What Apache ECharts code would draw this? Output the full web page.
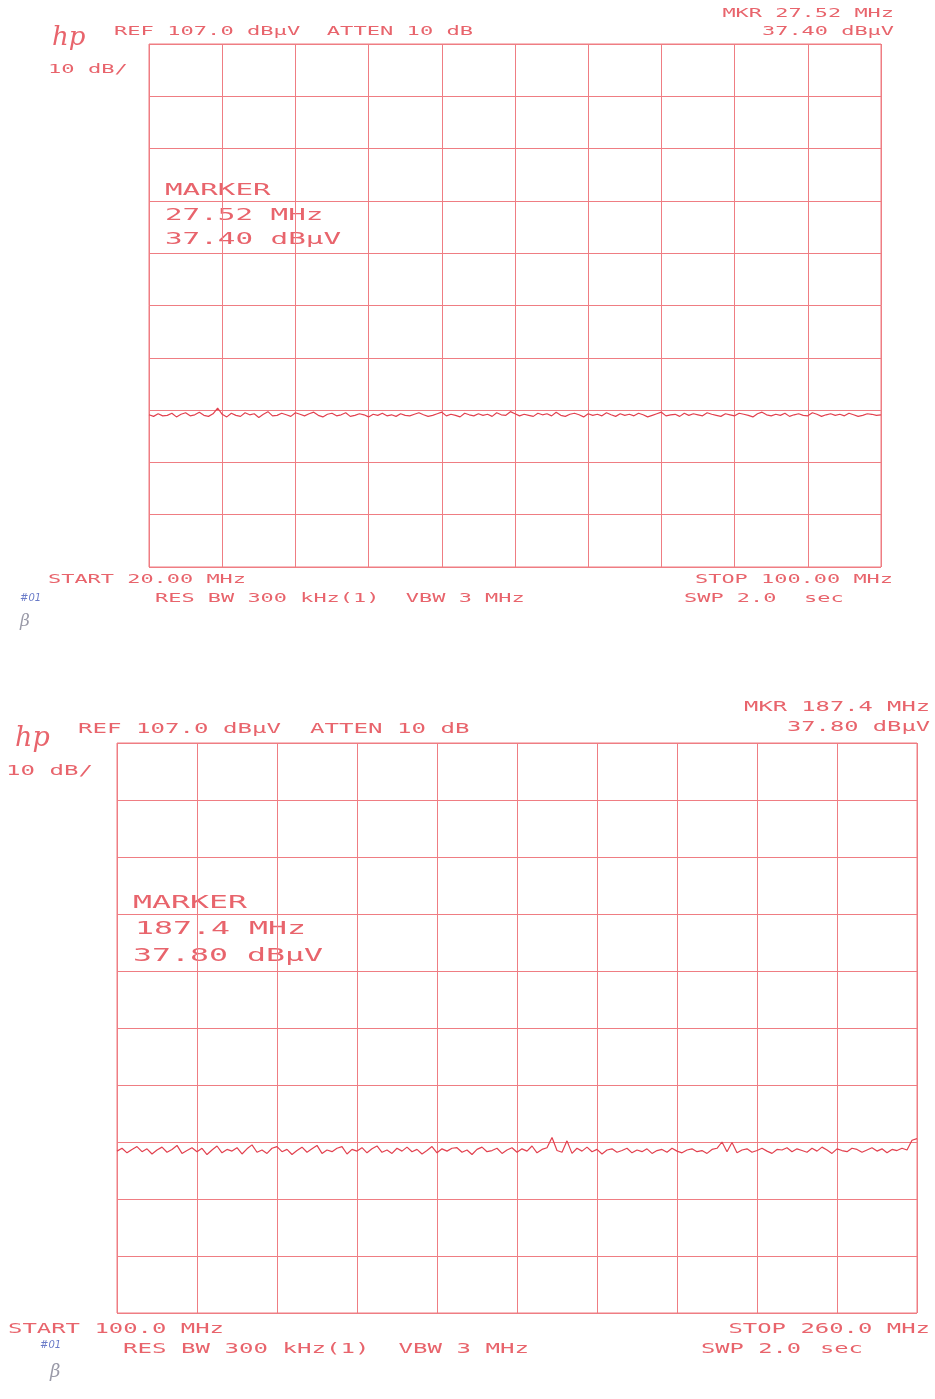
<!DOCTYPE html>
<html><head><meta charset="utf-8">
<script src="https://cdn.jsdelivr.net/npm/echarts@6/dist/echarts.min.js"></script>
<style>html,body{margin:0;padding:0;background:#fff}#c{width:935px;height:1399px}</style>
</head><body><div id="c"></div>
<script>
// ---- data ----
const refLevel = 107;          // dBµV, top of screen
const dbPerDiv = 10;
const divisions = 10;
const topStartMHz = 20, topStopMHz = 100;
const botStartMHz = 100, botStopMHz = 260;

// top sweep 20–100 MHz (dBµV)
const topTrace = [
36.1,35.8,36.3,35.9,36.0,36.4,35.7,36.2,36.5,35.9,36.1,36.6,36.0,35.8,36.3,37.4,36.2,35.7,36.4,36.0,
35.8,36.5,36.1,36.3,35.6,36.2,36.7,35.9,36.0,36.4,36.1,35.8,36.5,36.2,35.9,36.3,36.6,36.0,35.7,36.2,
36.4,35.9,36.1,36.5,35.8,36.0,36.3,36.1,35.7,36.2,36.0,36.4,35.9,36.1,35.8,36.3,36.0,35.9,36.2,36.5,
36.1,35.8,36.0,36.3,36.6,35.9,36.2,36.0,35.7,36.4,36.1,35.9,36.3,36.0,36.2,35.8,36.5,36.1,36.0,36.7,
36.3,35.9,36.2,36.0,35.8,36.4,36.1,36.3,35.9,36.6,36.0,35.8,36.2,36.4,36.1,35.7,36.3,36.0,36.2,35.9,
36.5,36.1,35.8,36.3,36.0,36.2,35.9,36.4,36.1,35.7,36.0,36.3,36.6,35.9,36.1,36.2,35.8,36.4,36.0,36.3,
36.1,35.9,36.5,36.2,36.0,35.8,36.3,36.1,35.9,36.4,36.2,36.0,35.7,36.3,36.6,36.1,35.9,36.2,36.0,36.4,
35.8,36.1,36.3,36.0,35.9,36.5,36.2,35.8,36.1,36.3,36.0,36.2,35.9,36.4,36.1,35.8,36.0,36.3,36.2,36.0,36.1
];
// bottom sweep 100–260 MHz (dBµV)
const botTrace = [
35.4,35.9,35.1,35.7,36.2,35.3,35.8,34.9,35.6,36.1,35.2,35.7,36.4,35.0,35.5,36.0,35.3,35.9,34.8,35.6,
36.3,35.1,35.7,35.4,36.0,34.9,35.8,36.5,35.2,35.6,35.0,35.9,36.2,35.3,35.7,34.8,35.5,36.1,35.2,35.8,
36.4,35.0,35.6,35.3,35.9,36.2,34.9,35.7,35.4,36.0,35.1,35.8,36.3,35.2,35.6,35.0,35.9,35.4,36.1,35.3,
35.7,34.9,35.5,36.2,35.1,35.8,35.4,35.9,36.0,35.2,35.6,34.8,35.7,36.1,35.3,35.5,35.9,35.0,35.6,36.0,
35.2,35.8,35.4,36.3,35.1,35.7,36.0,37.8,35.5,35.2,37.2,35.0,35.9,35.4,36.1,35.3,35.7,34.9,35.6,35.8,
35.2,35.5,35.9,35.1,35.6,35.3,35.8,35.0,35.5,35.7,35.2,35.9,35.4,35.1,35.6,35.8,35.3,35.5,35.0,35.7,
35.9,37.0,35.3,36.9,35.1,35.6,35.8,35.2,35.5,35.9,35.4,35.0,35.7,35.6,36.0,35.3,35.8,35.5,35.2,35.9,
35.4,36.1,35.6,35.0,35.8,35.5,35.3,35.9,35.7,35.2,35.6,36.0,35.4,35.8,35.1,35.7,35.5,35.9,35.6,37.3,37.6
];

// ---- texts ----
const headerText = 'REF 107.0 dBµV  ATTEN 10 dB';
const scaleText = '10 dB/';
const topMkrFreq = 'MKR 27.52 MHz', topMkrLevel = '37.40 dBµV';
const topMarker = ['MARKER', '27.52 MHz', '37.40 dBµV'];
const topStart = 'START 20.00 MHz', topStop = 'STOP 100.00 MHz';
const botMkrFreq = 'MKR 187.4 MHz', botMkrLevel = '37.80 dBµV';
const botMarker = ['MARKER', '187.4 MHz', '37.80 dBµV'];
const botStart = 'START 100.0 MHz', botStop = 'STOP 260.0 MHz';
const resText = 'RES BW 300 kHz(1)';
const vbwText = 'VBW 3 MHz';
const swpText = 'SWP 2.0';
const secText = 'sec';

// ---- style ----
const GRID = '#ef7d83';
const TXT = '#e8646c';
const TRACE = '#e2414f';
const FONT = '"DejaVu Sans Mono"';

function txt(s, x, y, size, pitch, align, color, fontStyle, fam) {
  const sx = pitch ? pitch / (0.602 * size) : 1;
  return {
    type: 'text', x: x, y: y, scaleX: sx, silent: true,
    style: {
      text: s, font: (fontStyle || '') + ' ' + size + 'px ' + (fam || FONT),
      fill: color || TXT, textAlign: align || 'left', align: align || 'left',
      textVerticalAlign: 'middle', verticalAlign: 'middle'
    }
  };
}

const graphics = [
  // top plot
  txt('hp', 52, 38, 26, null, 'left', TXT, 'italic', '"DejaVu Serif"'),
  txt(headerText, 114, 32, 13, 13.3),
  txt(scaleText, 48, 70, 13, 13.3),
  txt(topMkrFreq, 894, 14, 13, 13.2, 'right'),
  txt(topMkrLevel, 894, 32, 13, 13.2, 'right'),
  txt(topMarker[0], 165, 191, 15.5, 17.6),
  txt(topMarker[1], 165, 216, 15.5, 17.6),
  txt(topMarker[2], 165, 240, 15.5, 17.6),
  txt(topStart, 48, 580, 13, 13.2),
  txt(topStop, 893, 580, 13, 13.2, 'right'),
  txt(resText + '  ' + vbwText, 155, 599, 13, 13.2),
  txt(swpText, 684, 599, 13, 13.2),
  txt(secText, 804, 599, 13, 13.2),
  txt('#01', 20, 598, 10, null, 'left', '#6a7bc8', 'italic', '"DejaVu Sans"'),
  txt('β', 20, 622, 17, null, 'left', '#9a9aa8', 'italic', '"DejaVu Serif"'),
  // bottom plot
  txt('hp', 15, 739, 27, null, 'left', TXT, 'italic', '"DejaVu Serif"'),
  txt(headerText, 78, 729, 14, 14.5),
  txt(scaleText, 6, 771, 14, 14.5),
  txt(botMkrFreq, 930, 707, 14, 14.3, 'right'),
  txt(botMkrLevel, 930, 727, 14, 14.3, 'right'),
  txt(botMarker[0], 133, 904, 17, 19),
  txt(botMarker[1], 135, 930, 17, 19),
  txt(botMarker[2], 133, 957, 17, 19),
  txt(botStart, 8, 1329, 14, 14.4),
  txt(botStop, 930, 1329, 14, 14.4, 'right'),
  txt(resText + '  ' + vbwText, 123, 1349, 14, 14.5),
  txt(swpText, 701, 1349, 14, 14.3),
  txt(secText, 820, 1349, 14, 14.3),
  txt('#01', 40, 1345, 10, null, 'left', '#6a7bc8', 'italic', '"DejaVu Sans"'),
  txt('β', 50, 1372, 18, null, 'left', '#9a9aa8', 'italic', '"DejaVu Serif"')
];

function divAxis(gi) {
  return {
    gridIndex: gi, type: 'value', min: 0, max: divisions, interval: 1,
    axisLine: { show: false }, axisTick: { show: false }, axisLabel: { show: false },
    splitLine: { show: true, lineStyle: { color: GRID, width: 1 } }
  };
}
function dataX(gi, a, b) { return { gridIndex: gi, type: 'value', min: a, max: b, show: false }; }
function dataY(gi) { return { gridIndex: gi, type: 'value', min: refLevel - dbPerDiv * divisions, max: refLevel, show: false }; }

function sweep(arr, a, b) {
  return arr.map((v, i) => [a + i * (b - a) / (arr.length - 1), v]);
}

const chart = echarts.init(document.getElementById('c'), null, { renderer: 'canvas' });
chart.setOption({
  backgroundColor: '#ffffff',
  animation: false,
  grid: [
    { left: 149, top: 44, width: 732, height: 523, show: true, borderColor: GRID, borderWidth: 1, backgroundColor: 'transparent' },
    { left: 117, top: 743, width: 800, height: 570, show: true, borderColor: GRID, borderWidth: 1, backgroundColor: 'transparent' }
  ],
  xAxis: [divAxis(0), dataX(0, topStartMHz, topStopMHz), divAxis(1), dataX(1, botStartMHz, botStopMHz)],
  yAxis: [divAxis(0), dataY(0), divAxis(1), dataY(1)],
  series: [
    { type: 'line', xAxisIndex: 1, yAxisIndex: 1, data: sweep(topTrace, topStartMHz, topStopMHz),
      showSymbol: false, symbol: 'none', lineStyle: { color: TRACE, width: 1.2 }, silent: true },
    { type: 'line', xAxisIndex: 3, yAxisIndex: 3, data: sweep(botTrace, botStartMHz, botStopMHz),
      showSymbol: false, symbol: 'none', lineStyle: { color: TRACE, width: 1.2 }, silent: true }
  ],
  graphic: graphics
});
</script></body></html>
